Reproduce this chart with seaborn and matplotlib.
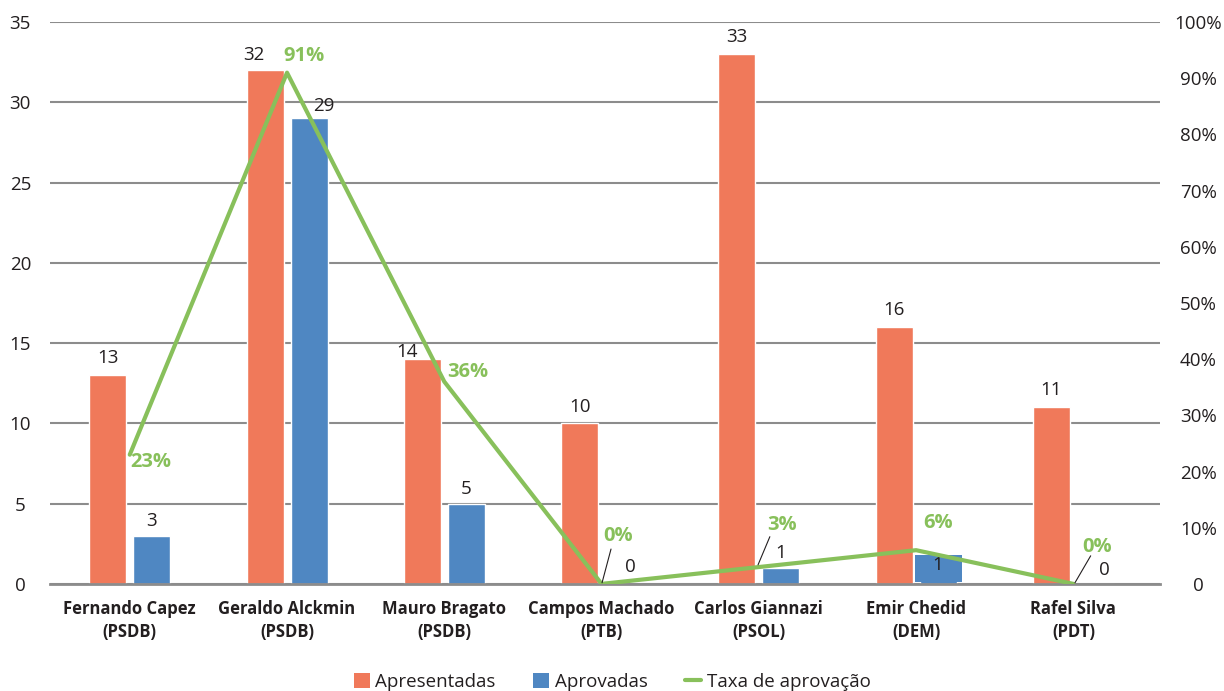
import numpy as np
import pandas as pd
import matplotlib
matplotlib.use("Agg")
import matplotlib.pyplot as plt
from matplotlib.patches import Patch, Rectangle
from matplotlib.lines import Line2D
import seaborn as sns

# Data
candidatos = ["Fernando Capez\n(PSDB)", "Geraldo Alckmin\n(PSDB)", "Mauro Bragato\n(PSDB)",
              "Campos Machado\n(PTB)", "Carlos Giannazi\n(PSOL)", "Emir Chedid\n(DEM)",
              "Rafel Silva\n(PDT)"]
apresentadas = [13, 32, 14, 10, 33, 16, 11]
aprovadas = [3, 29, 5, 0, 1, 1, 0]
taxa = [0.23, 0.91, 0.36, 0.00, 0.03, 0.06, 0.00]
taxa_labels = ["23%", "91%", "36%", "0%", "3%", "6%", "0%"]
left_ticks = [0, 5, 10, 15, 20, 25, 30, 35]
right_ticks = [0, 0.1, 0.2, 0.3, 0.4, 0.5, 0.6, 0.7, 0.8, 0.9, 1.0]
right_labels = ["0", "10%", "20%", "30%", "40%", "50%", "60%", "70%", "80%", "90%", "100%"]

ORANGE = "#F0795A"
BLUE = "#4F87C2"
GREEN = "#88C05B"
TXT = "#231F20"
GRID = "#8C8C8C"

sns.set_theme(style="white")
plt.rcParams["font.family"] = ["Open Sans", "DejaVu Sans"]

df = pd.DataFrame({
    "cand": candidatos * 2,
    "valor": apresentadas + aprovadas,
    "serie": ["Apresentadas"] * len(candidatos) + ["Aprovadas"] * len(candidatos),
})

XLIM = (-0.506, 6.553)

fig = plt.figure(figsize=(12.24, 6.91), dpi=100)
ax = fig.add_axes([0.041, 0.155, 0.907, 0.813])

sns.barplot(data=df, x="cand", y="valor", hue="serie", order=candidatos,
            palette={"Apresentadas": ORANGE, "Aprovadas": BLUE},
            width=0.56, gap=0.16, saturation=1, ax=ax, legend=False, zorder=2)

ax.set_ylim(0, 35)
ax.set_xlim(*XLIM)
ax.set_yticks(left_ticks)
ax.yaxis.grid(True, color=GRID, linewidth=1.5, zorder=0)
ax.set_axisbelow(True)
ax.set_xlabel("")
ax.set_ylabel("")
for s in ["top", "left", "right"]:
    ax.spines[s].set_visible(False)
ax.spines["bottom"].set_color(GRID)
ax.spines["bottom"].set_linewidth(2)
ax.tick_params(axis="y", length=0, labelsize=13.5, labelcolor=TXT, pad=21.5)
for lbl in ax.get_yticklabels():
    lbl.set_horizontalalignment("center")
ax.tick_params(axis="x", length=0, labelsize=12, labelcolor=TXT, pad=11.5)
for lbl in ax.get_xticklabels():
    lbl.set_fontweight("bold")
    lbl.set_linespacing(1.4)

# Bar value labels (offsets in category / value units)
ap_off = {1: (-0.07, 0.95), 2: (-0.095, 0.45)}
av_off = {1: (0.095, 0.8), 3: (0.04, 1.06), 4: (0.0, 0.93), 6: (0.06, 0.87)}
containers = ax.containers
for i, v in enumerate(apresentadas):
    bar = containers[0][i]
    dx, dy = ap_off.get(i, (0.0, 1.05))
    ax.text(bar.get_x() + bar.get_width() / 2 + dx, v + dy, str(v), ha="center", va="center",
            fontsize=13.5, color=TXT)
for i, v in enumerate(aprovadas):
    bar = containers[1][i]
    cx = bar.get_x() + bar.get_width() / 2
    if i == 5:
        # label sitting on its own filled box
        w = bar.get_width() * 1.27
        ax.add_patch(Rectangle((cx - w / 2, 0.12), w, 1.7, facecolor=BLUE, edgecolor="none",
                               zorder=3))
        ax.text(cx, 1.18, str(v), ha="center", va="center", fontsize=13.5, color=TXT, zorder=4)
        continue
    dx, dy = av_off.get(i, (0.0, 0.9))
    ax.text(cx + dx, v + dy, str(v), ha="center", va="center", fontsize=13.5, color=TXT)

# Approval rate on the secondary axis
ax2 = ax.twinx()
xpos = np.arange(len(candidatos))
sns.lineplot(x=xpos, y=taxa, ax=ax2, color=GREEN, linewidth=3, zorder=5)
ax2.set_ylim(0, 1)
ax2.set_xlim(*XLIM)
ax2.set_yticks(right_ticks)
ax2.set_yticklabels(right_labels)
ax2.tick_params(axis="y", length=0, labelsize=13.5, labelcolor=TXT, pad=27.5)
for lbl in ax2.get_yticklabels():
    lbl.set_horizontalalignment("center")
for s in ax2.spines.values():
    s.set_visible(False)
ax2.grid(False)

# rate labels: (dx from category centre to label's left edge, label centre height)
rate_pos = [(0.003, 0.217), (-0.024, 0.94), (0.02, 0.377), (0.01, 0.085),
            (0.053, 0.105), (0.045, 0.1085), (0.054, 0.066)]
for i, lab in enumerate(taxa_labels):
    dx, y = rate_pos[i]
    ax2.text(i + dx, y, lab, ha="left", va="center", fontsize=14.5, fontweight="bold",
             color=GREEN, zorder=6)

# Leader lines for the small rate labels
leaders = {3: ((0.003, 0.06), (0.002, 0.062)),
           4: ((-0.005, 0.07), (0.034, 0.084)),
           6: ((0.01, 0.11), (0.002, 0.05))}
for i, (xs, ys) in leaders.items():
    ax2.plot([i + xs[0], i + xs[1]], list(ys), color=TXT, linewidth=0.8, zorder=6)

# Legend
handles = [Patch(facecolor=ORANGE, edgecolor="none"),
           Patch(facecolor=BLUE, edgecolor="none"),
           Line2D([0], [0], color=GREEN, linewidth=3)]
fig.legend(handles, ["Apresentadas", "Aprovadas", "Taxa de aprovação"], loc="lower center",
           bbox_to_anchor=(0.5, -0.024), ncol=3, frameon=False, fontsize=13.5,
           handlelength=0.85, handleheight=0.85, handletextpad=0.3, columnspacing=2.0,
           labelcolor=TXT)

fig.savefig("out.png", dpi=100)
